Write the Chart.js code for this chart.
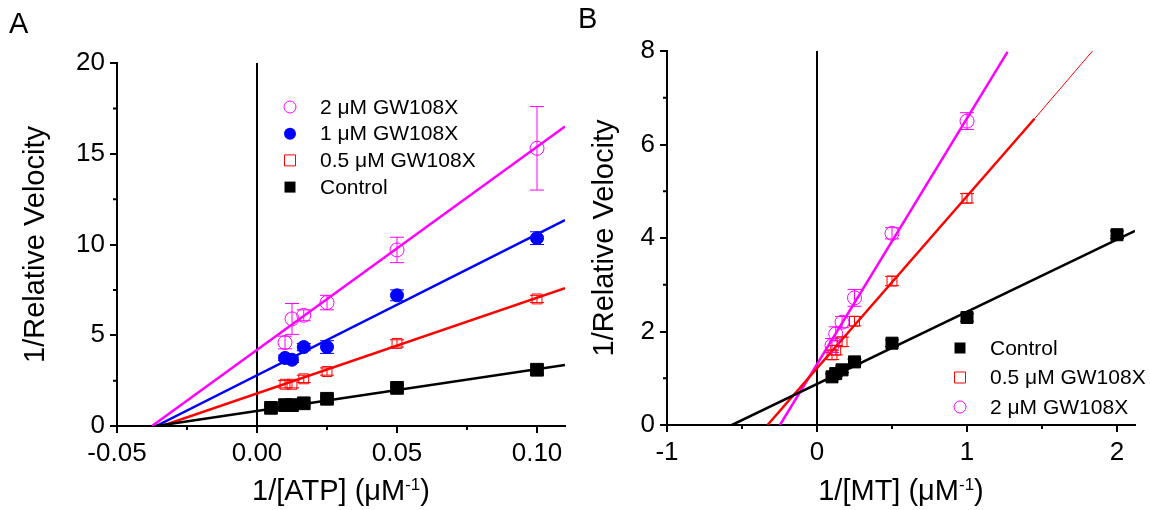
<!DOCTYPE html>
<html>
<head>
<meta charset="utf-8">
<script src="https://cdn.jsdelivr.net/npm/chart.js@4.4.1/dist/chart.umd.min.js"></script>
<style>
  body { margin: 0; background: #fff; width: 1150px; height: 510px; overflow: hidden; }
  .panel { position: absolute; top: 0; width: 575px; height: 510px; }
  #boxA { left: 0; }
  #boxB { left: 575px; }
</style>
</head>
<body>
<div class="panel" id="boxA"><canvas id="chartA"></canvas></div>
<div class="panel" id="boxB"><canvas id="chartB"></canvas></div>
<script>
// ---- Panel A: 1/[ATP] ----
const atpCtrlX = [0.005, 0.01, 0.0125, 0.0167, 0.025, 0.05, 0.1];
const atpCtrlY = [1.0, 1.15, 1.15, 1.25, 1.5, 2.1, 3.1];
const atpCtrlErr = [0.1, 0.1, 0.1, 0.1, 0.12, 0.2, 0.25];
const atpX = [0.01, 0.0125, 0.0167, 0.025, 0.05, 0.1];
const atpHalfY = [2.3, 2.3, 2.6, 3.0, 4.55, 7.0];
const atpHalfErr = [0.2, 0.2, 0.2, 0.2, 0.2, 0.2];
const atpOneY = [3.75, 3.65, 4.35, 4.35, 7.2, 10.35];
const atpOneErr = [0.15, 0.15, 0.2, 0.35, 0.3, 0.35];
const atpTwoY = [4.6, 5.9, 6.1, 6.8, 9.7, 15.3];
const atpTwoErr = [0.35, 0.85, 0.3, 0.4, 0.7, 2.3];
// fitted lines, end points
const fitAtpCtrl = [[-0.036, 0], [0.11, 3.36]];
const fitAtpHalf = [[-0.034, 0], [0.11, 7.6]];
const fitAtpOne = [[-0.036, 0], [0.11, 11.35]];
const fitAtpTwo = [[-0.0375, 0], [0.11, 16.5]];
const atpTicks = [-0.05, 0, 0.05, 0.10];
const atpTickLabels = ['-0.05', '0.00', '0.05', '0.10'];
const atpMinor = [-0.025, 0.025, 0.075];
const velTicksA = [0, 5, 10, 15, 20];
const velMinorA = [2.5, 7.5, 12.5, 17.5];

// ---- Panel B: 1/[MT] ----
const mtX = [0.1, 0.125, 0.167, 0.25, 0.5, 1, 2];
const mtCtrlY = [1.03, 1.1, 1.18, 1.35, 1.75, 2.3, 4.07];
const mtCtrlErr = [0.06, 0.06, 0.06, 0.06, 0.07, 0.08, 0.08];
const mtX6 = [0.1, 0.125, 0.167, 0.25, 0.5, 1];
const mtHalfY = [1.5, 1.6, 1.78, 2.22, 3.08, 4.85];
const mtHalfErr = [0.1, 0.1, 0.1, 0.1, 0.1, 0.1];
const mtTwoY = [1.7, 1.95, 2.2, 2.72, 4.1, 6.5];
const mtTwoErr = [0.15, 0.15, 0.12, 0.18, 0.12, 0.18];
const fitMtCtrl = [[-0.567, 0], [2.12, 4.15]];
const fitMtHalf = [[-0.33, 0], [1.45, 6.55]];
const fitMtHalfThin = [[1.45, 6.55], [1.85, 8.05]];
const fitMtTwo = [[-0.247, 0], [1.27, 7.98]];
const mtTicks = [-1, 0, 1, 2];
const mtTickLabels = ['-1', '0', '1', '2'];
const mtMinor = [-0.5, 0.5, 1.5];
const velTicksB = [0, 2, 4, 6, 8];
const velMinorB = [1, 3, 5, 7];

const FONT = "'Liberation Sans', Arial, sans-serif";
const MAGENTA = '#ff00ff', BLUE = '#0000ff', RED = '#ff0000', BLACK = '#000000';

function pts(xs, ys) { return xs.map((x, i) => ({ x: x, y: ys[i] })); }
function seg(p) { return p.map(q => ({ x: q[0], y: q[1] })); }

function pointSet(xs, ys, err, color, style, filled, radius) {
  return {
    data: pts(xs, ys), errors: err, order: 1,
    pointStyle: style, pointRadius: radius, pointHoverRadius: radius,
    borderColor: color, borderWidth: 1,
    backgroundColor: filled ? color : 'rgba(0,0,0,0)',
    showLine: false
  };
}
function lineSet(p, color, width) {
  return {
    data: seg(p), order: 2, showLine: true, pointRadius: 0,
    borderColor: color, borderWidth: width || 2.5, backgroundColor: color
  };
}

// zero line, error bars, minor ticks, titles, legend, panel letter
const decor = {
  id: 'decor',
  beforeDatasetsDraw(chart, args, o) {
    const { ctx, chartArea: a, scales: { x, y } } = chart;
    ctx.save();
    const x0 = x.getPixelForValue(0);
    ctx.strokeStyle = BLACK; ctx.lineWidth = 2;
    ctx.beginPath(); ctx.moveTo(x0, a.top); ctx.lineTo(x0, a.bottom); ctx.stroke();
    chart.data.datasets.forEach(ds => {
      if (!ds.errors) return;
      ctx.strokeStyle = ds.borderColor; ctx.lineWidth = 1;
      ds.data.forEach((p, i) => {
        const px = x.getPixelForValue(p.x);
        const lo = y.getPixelForValue(p.y - ds.errors[i]);
        const hi = y.getPixelForValue(p.y + ds.errors[i]);
        ctx.beginPath();
        ctx.moveTo(px, lo); ctx.lineTo(px, hi);
        ctx.moveTo(px - 7, lo); ctx.lineTo(px + 7, lo);
        ctx.moveTo(px - 7, hi); ctx.lineTo(px + 7, hi);
        ctx.stroke();
      });
    });
    ctx.restore();
  },
  afterDraw(chart, args, o) {
    const { ctx, chartArea: a, scales: { x, y } } = chart;
    ctx.save();
    // minor ticks
    ctx.strokeStyle = BLACK; ctx.lineWidth = 2;
    ctx.beginPath();
    o.minorX.forEach(v => { const p = x.getPixelForValue(v); ctx.moveTo(p, a.bottom); ctx.lineTo(p, a.bottom + 4); });
    o.minorY.forEach(v => { const p = y.getPixelForValue(v); ctx.moveTo(a.left, p); ctx.lineTo(a.left - 4, p); });
    ctx.stroke();

    ctx.fillStyle = BLACK;
    // panel letter
    ctx.font = '29px ' + FONT;
    ctx.textBaseline = 'alphabetic'; ctx.textAlign = 'left';
    ctx.fillText(o.letter, o.letterPos[0], o.letterPos[1]);

    // y title
    ctx.save();
    ctx.font = '29px ' + FONT;
    ctx.translate(o.yTitleX, (a.top + a.bottom) / 2);
    ctx.rotate(-Math.PI / 2);
    ctx.textAlign = 'center'; ctx.textBaseline = 'middle';
    ctx.fillText(o.yTitle, 0, 0);
    ctx.restore();

    // x title with superscript
    const main = o.xTitle[0], sup = '-1', tail = ')';
    ctx.font = '29px ' + FONT;
    const wMain = ctx.measureText(main).width, wTail = ctx.measureText(tail).width;
    ctx.font = '17px ' + FONT;
    const wSup = ctx.measureText(sup).width;
    let tx = (a.left + a.right) / 2 - (wMain + wSup + wTail) / 2;
    const base = 500;
    ctx.textAlign = 'left';
    ctx.font = '29px ' + FONT; ctx.fillText(main, tx, base); tx += wMain;
    ctx.font = '17px ' + FONT; ctx.fillText(sup, tx, base - 10); tx += wSup;
    ctx.font = '29px ' + FONT; ctx.fillText(tail, tx, base);

    // legend
    ctx.font = '21px ' + FONT;
    ctx.textBaseline = 'middle';
    o.legend.forEach((e, i) => {
      const cy = o.legendPos[1] + i * o.legendGap, cx = o.legendPos[0];
      ctx.strokeStyle = e.color; ctx.fillStyle = e.color; ctx.lineWidth = 1;
      ctx.beginPath();
      if (e.style === 'circle') ctx.arc(cx, cy, 6, 0, Math.PI * 2);
      else ctx.rect(cx - 5.5, cy - 5.5, 11, 11);
      if (e.filled) ctx.fill(); else ctx.stroke();
      ctx.fillStyle = BLACK;
      ctx.fillText(e.label, cx + 30, cy + 1);
    });
    ctx.restore();
  }
};

function axis(min, max, ticks, labels, fitFn) {
  return {
    type: 'linear', min: min, max: max,
    afterBuildTicks: s => { s.ticks = ticks.map(v => ({ value: v })); },
    afterFit: fitFn,
    ticks: {
      callback: (v, i) => labels[i], color: BLACK, padding: 5,
      font: { family: FONT, size: 26 }, maxRotation: 0, autoSkip: false
    },
    grid: { drawOnChartArea: false, drawTicks: true, tickLength: 7, color: BLACK, lineWidth: 2 },
    border: { display: true, color: BLACK, width: 2 }
  };
}

function makeChart(id, datasets, sc, dec, pad) {
  return new Chart(document.getElementById(id), {
    type: 'scatter',
    data: { datasets: datasets },
    options: {
      responsive: true, maintainAspectRatio: false, animation: false,
      layout: { padding: pad },
      plugins: { legend: { display: false }, tooltip: { enabled: false }, decor: dec },
      scales: sc
    },
    plugins: [decor]
  });
}

makeChart('chartA', [
  pointSet(atpCtrlX, atpCtrlY, atpCtrlErr, BLACK, 'rect', true, 9),
  pointSet(atpX, atpHalfY, atpHalfErr, RED, 'rect', false, 7),
  pointSet(atpX, atpOneY, atpOneErr, BLUE, 'circle', true, 6.5),
  pointSet(atpX, atpTwoY, atpTwoErr, MAGENTA, 'circle', false, 7),
  lineSet(fitAtpCtrl, BLACK), lineSet(fitAtpHalf, RED),
  lineSet(fitAtpOne, BLUE), lineSet(fitAtpTwo, MAGENTA)
], {
  x: axis(-0.05, 0.11, atpTicks, atpTickLabels, s => { s.height = 84; }),
  y: axis(0, 20, velTicksA, velTicksA.map(String), s => { s.width = 117; })
}, {
  letter: 'A', letterPos: [9, 33], yTitle: '1/Relative Velocity', yTitleX: 36,
  xTitle: ['1/[ATP] (\u03bcM'], minorX: atpMinor, minorY: velMinorA,
  legendPos: [290, 107], legendGap: 26.7,
  legend: [
    { label: '2 \u03bcM GW108X', color: MAGENTA, style: 'circle', filled: false },
    { label: '1 \u03bcM GW108X', color: BLUE, style: 'circle', filled: true },
    { label: '0.5 \u03bcM GW108X', color: RED, style: 'rect', filled: false },
    { label: 'Control', color: BLACK, style: 'rect', filled: true }
  ]
}, { top: 63, right: 10, left: 0, bottom: 0 });

makeChart('chartB', [
  pointSet(mtX, mtCtrlY, mtCtrlErr, BLACK, 'rect', true, 8.5),
  pointSet(mtX6, mtHalfY, mtHalfErr, RED, 'rect', false, 7),
  pointSet(mtX6, mtTwoY, mtTwoErr, MAGENTA, 'circle', false, 7),
  lineSet(fitMtCtrl, BLACK), lineSet(fitMtHalf, RED), lineSet(fitMtHalfThin, RED, 1),
  lineSet(fitMtTwo, MAGENTA)
], {
  x: axis(-1, 2.12, mtTicks, mtTickLabels, s => { s.height = 85; }),
  y: axis(0, 8, velTicksB, velTicksB.map(String), s => { s.width = 92; })
}, {
  letter: 'B', letterPos: [3, 28], yTitle: '1/Relative Velocity', yTitleX: 30,
  xTitle: ['1/[MT] (\u03bcM'], minorX: mtMinor, minorY: velMinorB,
  legendPos: [385, 348], legendGap: 29.5,
  legend: [
    { label: 'Control', color: BLACK, style: 'rect', filled: true },
    { label: '0.5 \u03bcM GW108X', color: RED, style: 'rect', filled: false },
    { label: '2 \u03bcM GW108X', color: MAGENTA, style: 'circle', filled: false }
  ]
}, { top: 51, right: 15, left: 0, bottom: 0 });
</script>
</body>
</html>
